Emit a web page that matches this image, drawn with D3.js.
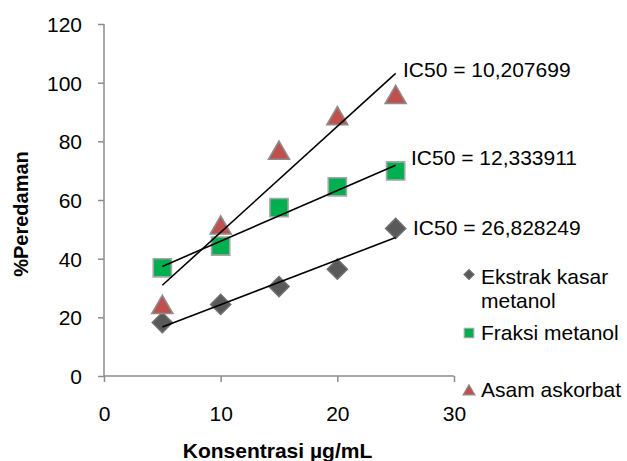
<!DOCTYPE html>
<html>
<head>
<meta charset="utf-8">
<script src="https://cdn.jsdelivr.net/npm/d3@7"></script>
<style>
  html, body { margin: 0; padding: 0; background: #fff; }
  svg { display: block; font-family: "Liberation Sans", Arial, sans-serif; }
</style>
</head>
<body>
<svg id="chart" width="627" height="461"></svg>
<script>
// ---- data ----
const concentrations = [5, 10, 15, 20, 25];
const ekstrakKasar = [18.2, 24.4, 30.5, 36.4, 50.3];
const fraksiMetanol = [36.9, 44.3, 57.4, 64.5, 69.9];
const asamAskorbat = [23.9, 51.0, 76.5, 88.3, 95.5];
const seriesNames = ["Ekstrak kasar metanol", "Fraksi metanol", "Asam askorbat"];
const ic50Labels = ["IC50 = 26,828249", "IC50 = 12,333911", "IC50 = 10,207699"];
const xTicks = [0, 10, 20, 30];
const yTicks = [0, 20, 40, 60, 80, 100, 120];
const xTitle = "Konsentrasi µg/mL";
const yTitle = "%Peredaman";

// ---- layout ----
const svg = d3.select("#chart");
const x = d3.scaleLinear().domain([0, 30]).range([104, 454]);
const y = d3.scaleLinear().domain([0, 120]).range([376, 24]);
const axisColor = "#8c8c8c";
const fontSize = 21;

const series = [
  { name: seriesNames[0], values: ekstrakKasar, kind: "diamond", fill: "#595959", stroke: "#6e6e6e", label: ic50Labels[0] },
  { name: seriesNames[1], values: fraksiMetanol, kind: "square", fill: "#00B050", stroke: "#a6a6a6", label: ic50Labels[1] },
  { name: seriesNames[2], values: asamAskorbat, kind: "triangle", fill: "#C0504D", stroke: "#8c8c8c", label: ic50Labels[2] }
];
function symFor(kind) { return kind === "triangle" ? d3.symbolTriangle : d3.symbolSquare; }
function rotFor(kind) { return kind === "diamond" ? " rotate(45)" : ""; }

// Axes
const yAxis = d3.axisLeft(y).tickValues(yTicks).tickSize(6).tickPadding(16).tickFormat(d3.format("d"));
const gy = svg.append("g").attr("transform", `translate(${x(0)},0)`).call(yAxis);
const xAxis = d3.axisBottom(x).tickValues(xTicks).tickSize(6).tickPadding(24).tickFormat(d3.format("d"));
const gx = svg.append("g").attr("transform", `translate(0,${y(0)})`).call(xAxis);
[gx, gy].forEach(g => {
  g.select(".domain").attr("stroke", axisColor).attr("stroke-width", 1.5);
  g.selectAll(".tick line").attr("stroke", axisColor).attr("stroke-width", 1.5);
  g.selectAll(".tick text").attr("fill", "#000").attr("font-size", fontSize)
    .attr("font-family", "Liberation Sans, Arial, sans-serif");
});
gx.select(".domain").attr("d", `M${x(0)},0H${x(30)}`);
gy.select(".domain").attr("d", `M0,${y(0)}V${y(120)}`);
gy.selectAll(".tick text").attr("dy", "0.36em");
gx.selectAll(".tick text").attr("dy", "0.71em");

// Regression lines (least squares from data)
function fit(xs, ys) {
  const mx = d3.mean(xs), my = d3.mean(ys);
  const sxy = d3.sum(xs, (v, i) => (v - mx) * (ys[i] - my));
  const sxx = d3.sum(xs, v => (v - mx) * (v - mx));
  const b = sxy / sxx;
  return { b, a: my - b * mx };
}
const line = d3.line().x(d => x(d[0])).y(d => y(d[1]));
const xMin = d3.min(concentrations), xMax = d3.max(concentrations);

// Markers
const markerSize = { diamond: 200, square: 330, triangle: 190 };
series.forEach(s => {
  svg.append("g").selectAll("path").data(concentrations).join("path")
    .attr("d", d3.symbol(symFor(s.kind), markerSize[s.kind]))
    .attr("transform", (d, i) => {
      let yy = y(s.values[i]);
      if (s.kind === "triangle") yy += 1.6; // center on bbox
      return `translate(${x(d)},${yy})${rotFor(s.kind)}`;
    })
    .attr("fill", s.fill)
    .attr("stroke", s.stroke)
    .attr("stroke-width", 1.6);
});

// trend lines on top
series.forEach(s => {
  const f = fit(concentrations, s.values);
  svg.append("path")
    .datum([[xMin, f.a + f.b * xMin], [xMax, f.a + f.b * xMax]])
    .attr("d", line)
    .attr("fill", "none")
    .attr("stroke", "#000")
    .attr("stroke-width", 1.6);
});

// IC50 labels
const labelPos = [
  { dx: 413, dy: 235 },
  { dx: 411, dy: 165 },
  { dx: 403, dy: 77 }
];
series.forEach((s, i) => {
  svg.append("text")
    .attr("x", labelPos[i].dx)
    .attr("y", labelPos[i].dy)
    .attr("font-size", fontSize)
    .attr("fill", "#000")
    .text(s.label);
});

// Axis titles
svg.append("text")
  .attr("x", 277.5).attr("y", 458)
  .attr("text-anchor", "middle")
  .attr("font-weight", "bold")
  .attr("font-size", 21)
  .text(xTitle);
svg.append("text")
  .attr("transform", "translate(28,214) rotate(-90)")
  .attr("text-anchor", "middle")
  .attr("font-weight", "bold")
  .attr("font-size", 20)
  .text(yTitle);

// Legend
const legendItems = [
  { s: series[0], my: 274.5, lines: ["Ekstrak kasar", "metanol"], base: 284 },
  { s: series[1], my: 333, lines: ["Fraksi metanol"], base: 340 },
  { s: series[2], my: 390.5, lines: ["Asam askorbat"], base: 397 }
];
const legendSize = { diamond: 50, square: 90, triangle: 60 };
const lg = svg.append("g");
legendItems.forEach(it => {
  const k = it.s.kind;
  lg.append("path")
    .attr("d", d3.symbol(symFor(k), legendSize[k]))
    .attr("transform", `translate(469,${it.my + (k === "triangle" ? 1 : 0)})${rotFor(k)}`)
    .attr("fill", it.s.fill)
    .attr("stroke", it.s.stroke)
    .attr("stroke-width", 1.2);
  const t = lg.append("text").attr("x", 481).attr("y", it.base).attr("font-size", fontSize).attr("fill", "#000");
  it.lines.forEach((ln, j) => {
    t.append("tspan").attr("x", 481).attr("y", it.base + j * 24).text(ln);
  });
});
</script>
</body>
</html>
